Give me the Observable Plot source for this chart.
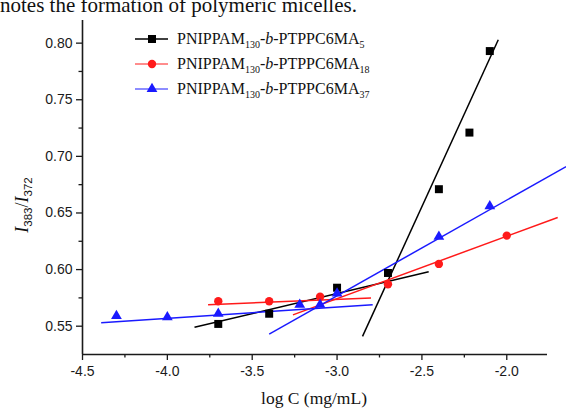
<!DOCTYPE html>
<html><head><meta charset="utf-8">
<script src="https://cdn.jsdelivr.net/npm/d3@7"></script>
<script src="https://cdn.jsdelivr.net/npm/@observablehq/plot@0.6"></script>
<style>
body{margin:0;background:#fff;}
#wrap{position:relative;width:566px;height:410px;overflow:hidden;}
#wrap svg{position:absolute;left:0;top:0;}
</style></head><body><div id="wrap"></div>
<script>
// Data
const seriesNames = ["PNIPPAM130-b-PTPPC6MA5", "PNIPPAM130-b-PTPPC6MA18", "PNIPPAM130-b-PTPPC6MA37"];
const blackX = [-3.7, -3.4, -3.0, -2.7, -2.4, -2.22, -2.1];
const blackY = [0.552, 0.561, 0.584, 0.597, 0.671, 0.721, 0.793];
const redX = [-3.7, -3.4, -3.1, -2.7, -2.4, -2.0];
const redY = [0.572, 0.572, 0.576, 0.587, 0.605, 0.630];
const blueX = [-4.3, -4.0, -3.7, -3.22, -3.1, -3.0, -2.4, -2.1];
const blueY = [0.559, 0.558, 0.561, 0.569, 0.569, 0.579, 0.629, 0.656];
// fitted line segments [x1, y1, x2, y2]
const blackFits = [[-3.84, 0.549, -2.46, 0.598], [-2.85, 0.541, -2.05, 0.803]];
const redFits = [[-3.76, 0.569, -2.80, 0.575], [-3.26, 0.560, -1.70, 0.646]];
const blueFits = [[-4.39, 0.553, -2.79, 0.569], [-3.40, 0.543, -1.65, 0.691]];
const xTicks = [-4.5, -4.0, -3.5, -3.0, -2.5, -2.0];
const xMinor = [-4.25, -3.75, -3.25, -2.75, -2.25];
const yTicks = [0.55, 0.60, 0.65, 0.70, 0.75, 0.80];
const yMinor = [0.575, 0.625, 0.675, 0.725, 0.775];

const colors = ["#000000", "#ff1a1a", "#1a1aff"];
const symbols = ["square", "circle", "triangle"];
const radii = [4.5, 4.2, 4.0];

const pts = [];
[[blackX, blackY], [redX, redY], [blueX, blueY]].forEach(([xs, ys], i) =>
  xs.forEach((x, j) => pts.push({s: i, x, y: ys[j]})));
const fits = [];
[blackFits, redFits, blueFits].forEach((f, i) =>
  f.forEach(([x1, y1, x2, y2]) => fits.push({s: i, x1, y1, x2, y2})));

const xfmt = d => d.toFixed(1);
const yfmt = d => d.toFixed(2);

const chart = Plot.plot({
  width: 566, height: 410,
  marginLeft: 82, marginRight: 19, marginTop: 20, marginBottom: 56,
  style: {fontFamily: "'Liberation Sans', Arial, sans-serif", fontSize: "14px", color: "#1a1a1a", background: "transparent"},
  x: {domain: [-4.5, -1.76]},
  y: {domain: [0.525, 0.82]},
  marks: [
    Plot.axisX(xTicks, {tickSize: 6, tickPadding: 6, tickFormat: xfmt, label: null, stroke: "#1a1a1a", strokeWidth: 1.3}),
    Plot.axisX(xMinor, {tickSize: 3.5, tickFormat: () => "", label: null, stroke: "#1a1a1a", strokeWidth: 1.3}),
    Plot.axisY(yTicks, {tickSize: 6, tickPadding: 4, tickFormat: yfmt, label: null, stroke: "#1a1a1a", strokeWidth: 1.3}),
    Plot.axisY(yMinor, {tickSize: 3.5, tickFormat: () => "", label: null, stroke: "#1a1a1a", strokeWidth: 1.3}),
    Plot.ruleY([0.525], {stroke: "#1a1a1a", strokeWidth: 1.6}),
    Plot.ruleX([-4.5], {stroke: "#1a1a1a", strokeWidth: 1.6}),
    Plot.link(fits, {x1: "x1", y1: "y1", x2: "x2", y2: "y2", stroke: d => colors[d.s], strokeWidth: 1.5}),
    ...[0, 1, 2].map(i => Plot.dot(pts.filter(d => d.s === i), {x: "x", y: "y", symbol: () => symbols[i], r: radii[i], fill: colors[i], stroke: "none"}))
  ]
});
const wrap = document.getElementById("wrap");
wrap.appendChild(chart);

// overlay: caption text, axis titles, legend
const ov = d3.select(wrap).append("svg").attr("width", 566).attr("height", 410);
ov.append("text").attr("x", 0).attr("y", 12)
  .attr("font-family", "'Liberation Serif', 'Times New Roman', serif").attr("font-size", 21).attr("fill", "#111")
  .text("notes the formation of polymeric micelles.");

ov.append("text").attr("x", 314).attr("y", 404).attr("text-anchor", "middle")
  .attr("font-family", "'Liberation Serif', 'Times New Roman', serif").attr("font-size", 17.5).attr("fill", "#111")
  .text("log C (mg/mL)");

const yt = ov.append("text").attr("transform", "translate(28,205) rotate(-90)").attr("text-anchor", "middle")
  .attr("font-family", "'Liberation Serif', 'Times New Roman', serif").attr("font-size", 18).attr("fill", "#111");
yt.append("tspan").attr("font-style", "italic").text("I");
yt.append("tspan").attr("font-family", "'Liberation Sans', Arial, sans-serif").attr("font-size", 11.5).attr("dy", 4).text("383");
yt.append("tspan").attr("dy", -4).text("/");
yt.append("tspan").attr("font-style", "italic").text("I");
yt.append("tspan").attr("font-family", "'Liberation Sans', Arial, sans-serif").attr("font-size", 11.5).attr("dy", 4).text("372");

const subs = ["5", "18", "37"];
const legY = [39, 64, 89];
const legStrokes = [1.3, 1, 1];
[0, 1, 2].forEach(i => {
  const g = ov.append("g");
  g.append("line").attr("x1", 135).attr("x2", 168).attr("y1", legY[i]).attr("y2", legY[i])
    .attr("stroke", colors[i]).attr("stroke-width", legStrokes[i]);
  g.append("path").attr("transform", `translate(152,${legY[i]})`)
    .attr("d", d3.symbol(i === 0 ? d3.symbolSquare : i === 1 ? d3.symbolCircle : d3.symbolTriangle, Math.PI * radii[i] * radii[i])())
    .attr("fill", colors[i]);
  const t = g.append("text").attr("x", 177).attr("y", legY[i] + 5)
    .attr("font-family", "'Liberation Serif', 'Times New Roman', serif").attr("font-size", 16).attr("fill", "#111");
  t.append("tspan").text("PNIPPAM");
  t.append("tspan").attr("font-size", 10).attr("dy", 4).text("130");
  t.append("tspan").attr("dy", -4).text("-");
  t.append("tspan").attr("font-style", "italic").text("b");
  t.append("tspan").text("-PTPPC6MA");
  t.append("tspan").attr("font-size", 10).attr("dy", 4).text(subs[i]);
});
</script></body></html>
